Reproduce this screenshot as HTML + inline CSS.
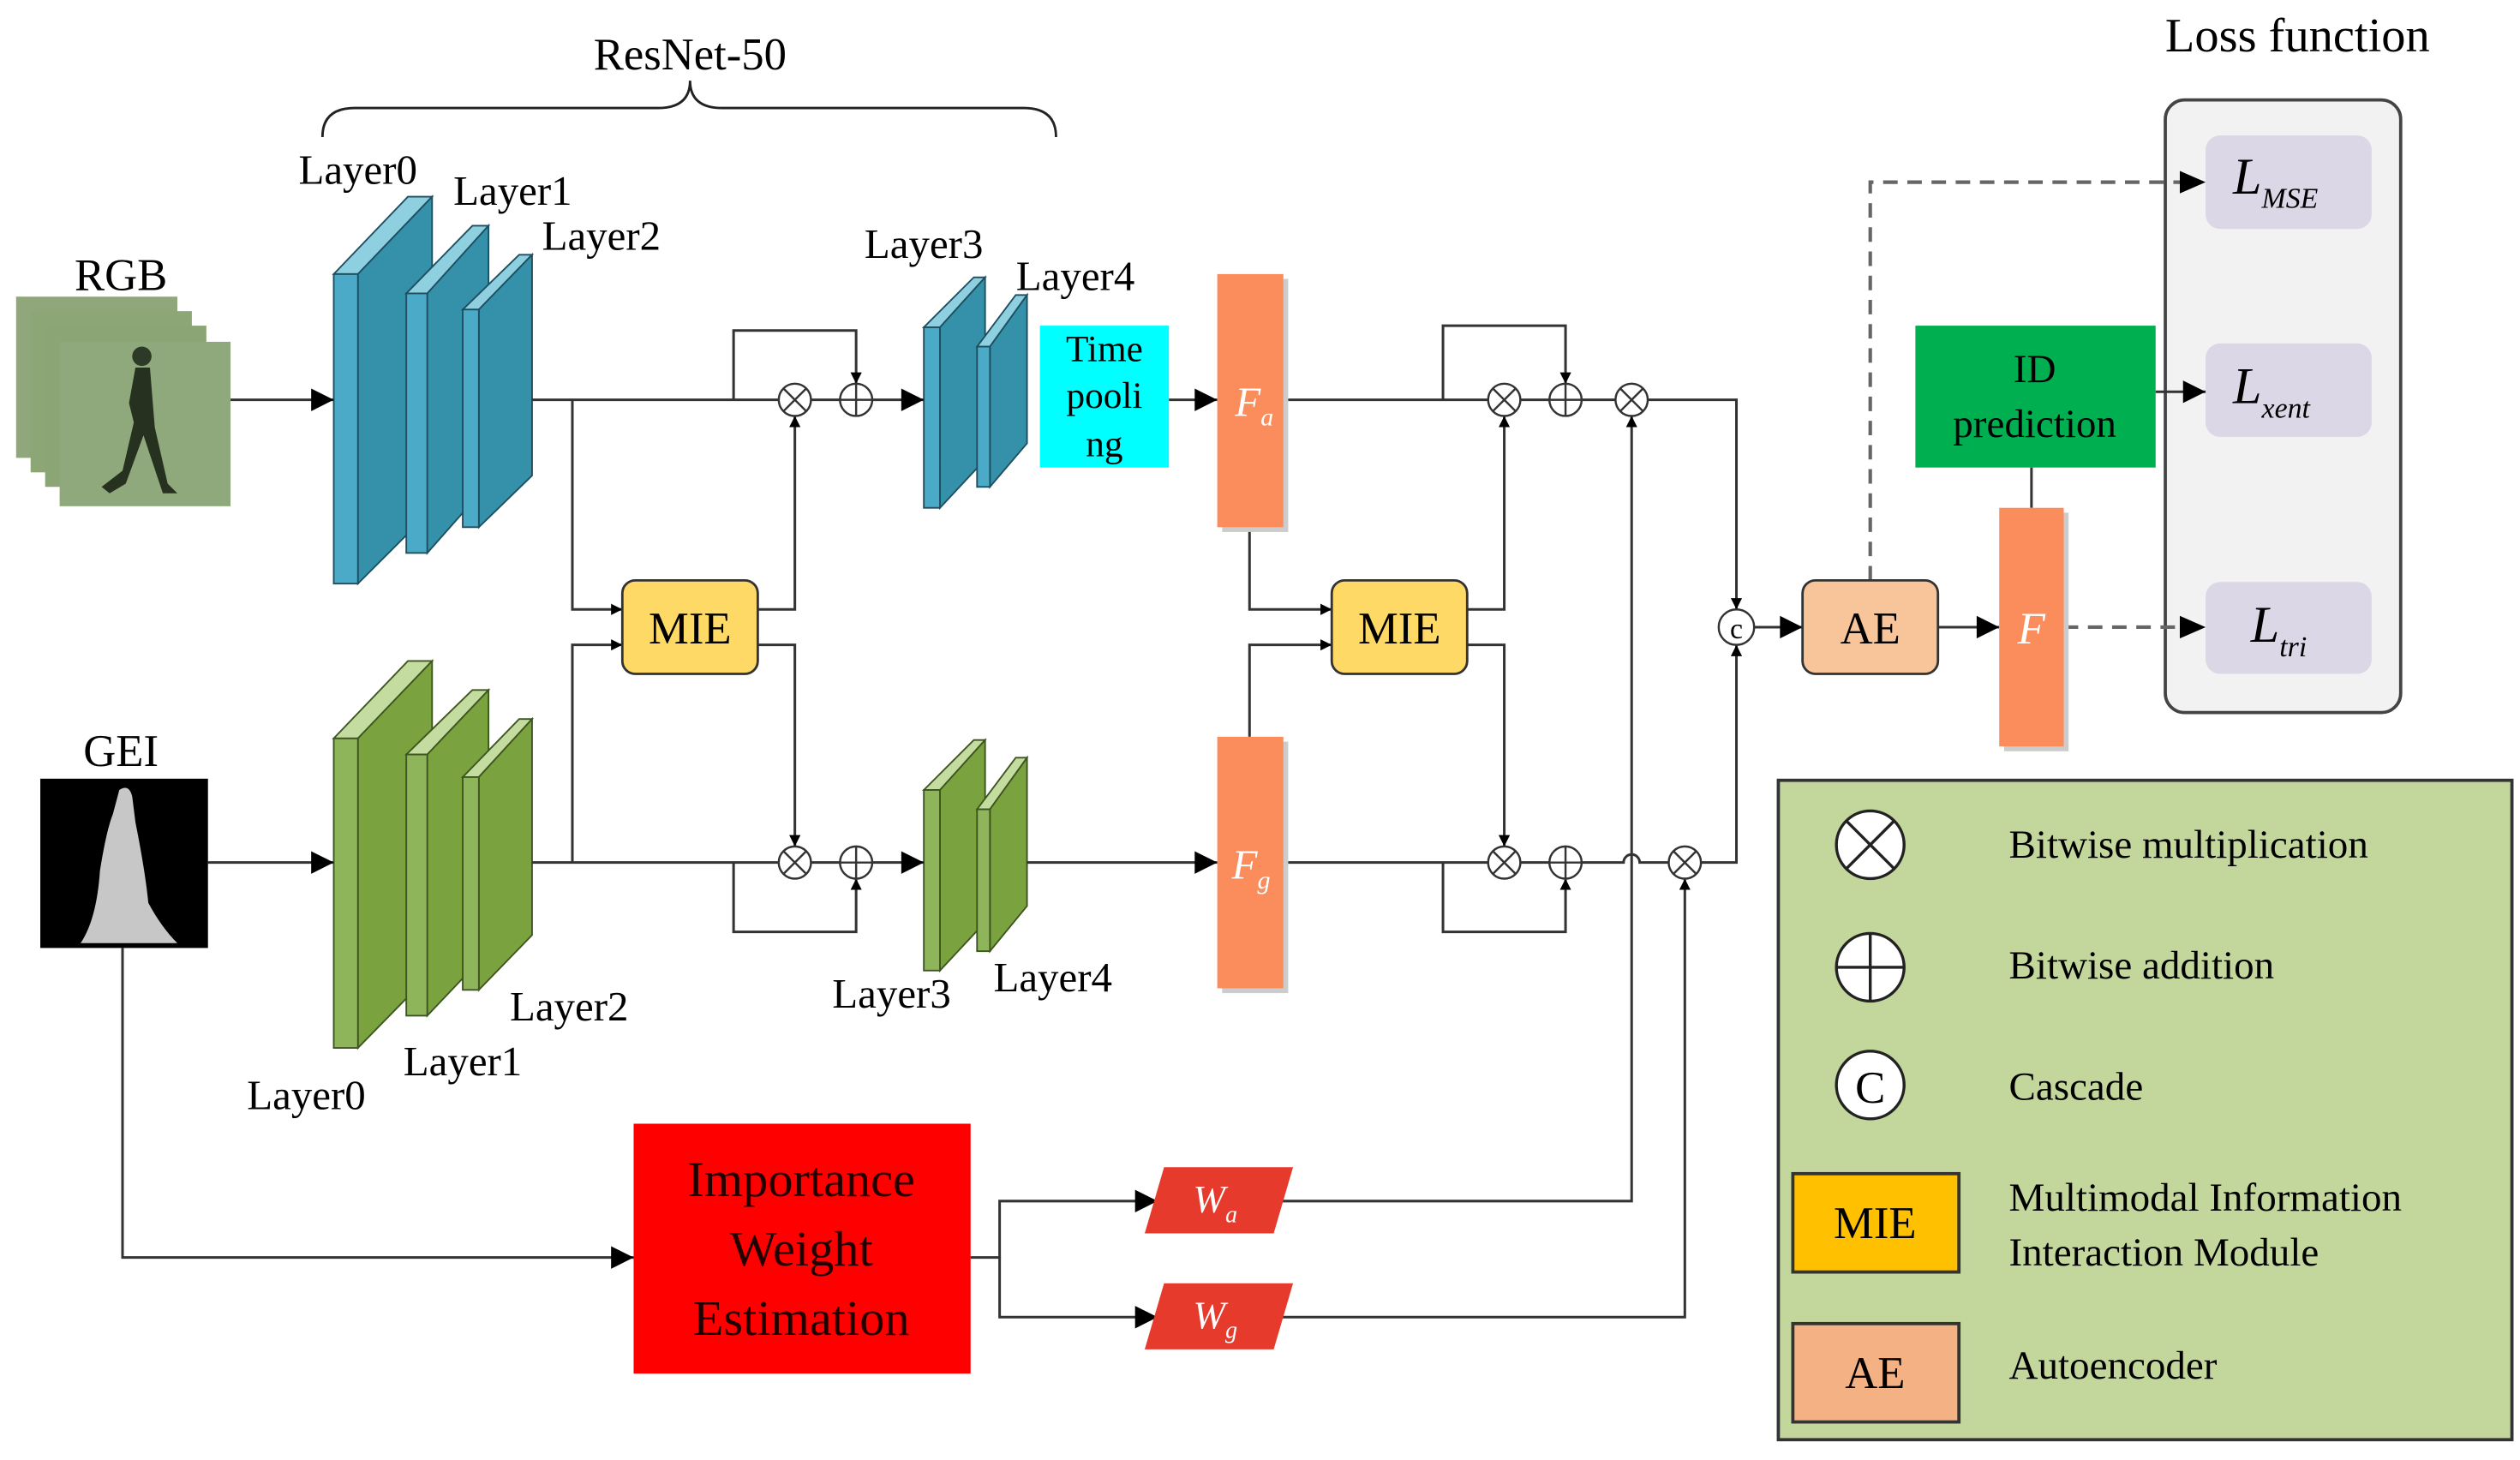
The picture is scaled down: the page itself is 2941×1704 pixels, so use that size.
<!DOCTYPE html>
<html><head><meta charset="utf-8"><style>
html,body{margin:0;padding:0;background:#fff;}
svg{display:block;}
text{font-family:"Liberation Serif",serif;fill:#000;}
</style></head><body>
<svg width="2941" height="1704" viewBox="0 0 1563 905.6" preserveAspectRatio="none" xmlns="http://www.w3.org/2000/svg">
<defs>
<marker id="a" viewBox="0 0 10 10" refX="10" refY="5" markerWidth="7" markerHeight="7" orient="auto" markerUnits="userSpaceOnUse"><path d="M0,0 L10,5 L0,10 z" fill="#000"/></marker>
<marker id="b" viewBox="0 0 10 10" refX="10" refY="5" markerWidth="16" markerHeight="14" orient="auto" markerUnits="userSpaceOnUse"><path d="M0,0 L10,5 L0,10 z" fill="#000"/></marker>
</defs>

<!-- titles -->
<text x="428" y="43" font-size="28" text-anchor="middle">ResNet-50</text>
<path d="M200,85 Q200,67 220,67 L408,67 Q428,67 428,50 Q428,67 448,67 L635,67 Q655,67 655,85" fill="none" stroke="#222" stroke-width="1.5"/>
<text x="1425" y="32" font-size="30" text-anchor="middle">Loss function</text>

<!-- loss panel (behind connectors) -->
<rect x="1343" y="62" width="146" height="380" rx="12" fill="#f2f2f2" stroke="#444" stroke-width="2"/>
<rect x="1368" y="84" width="103" height="58" rx="9" fill="#dcd7e6"/>
<rect x="1368" y="213" width="103" height="58" rx="9" fill="#dcd7e6"/>
<rect x="1368" y="361" width="103" height="57" rx="9" fill="#dcd7e6"/>
<g font-style="italic">
<text x="1385" y="120" font-size="32">L<tspan font-size="18" dy="9">MSE</tspan></text>
<text x="1385" y="250" font-size="32">L<tspan font-size="18" dy="9">xent</tspan></text>
<text x="1396" y="398" font-size="32">L<tspan font-size="18" dy="9">tri</tspan></text>
</g>

<!-- RGB images -->
<text x="75" y="180" font-size="28" text-anchor="middle">RGB</text>
<rect x="10" y="184" width="100" height="100" fill="#8fa77a"/>
<rect x="19" y="193" width="100" height="100" fill="#8ca676"/>
<rect x="28" y="202" width="100" height="100" fill="#8ba575"/>
<rect x="37" y="212" width="106" height="102" fill="#90a97c"/>
<circle cx="88" cy="221" r="6" fill="#2e3a28"/>
<path d="M84,228 L93,228 L96,265 L104,300 L110,306 L101,306 L89,270 L78,300 L68,306 L63,302 L76,292 L83,262 L80,250 L84,228z" fill="#26321f"/>
<text x="75" y="475" font-size="28" text-anchor="middle">GEI</text>
<rect x="25" y="483" width="104" height="105" fill="#000"/>
<path d="M74,490 Q80,486 82,494 L84,510 Q90,540 92,560 Q100,575 110,585 L50,585 Q60,570 62,540 Q66,515 70,505z" fill="#ddd" opacity="0.9"/>

<!-- blue layers top -->
<g stroke="#1d4f60" stroke-width="1">
<polygon points="207,170 253,122 268,122 222,170" fill="#8ecfe0"/>
<polygon points="222,170 268,122 268,316 222,362" fill="#3590aa"/>
<rect x="207" y="170" width="15" height="192" fill="#4aaac8"/>
<polygon points="252,182 293,140 303,140 265,182" fill="#8ecfe0"/>
<polygon points="265,182 303,140 303,300 265,343" fill="#3590aa"/>
<rect x="252" y="182" width="13" height="161" fill="#4aaac8"/>
<polygon points="287,192 322,158 330,158 297,192" fill="#8ecfe0"/>
<polygon points="297,192 330,158 330,295 297,327" fill="#3590aa"/>
<rect x="287" y="192" width="10" height="135" fill="#4aaac8"/>
<polygon points="573,203 604,172 611,172 583,203" fill="#8ecfe0"/>
<polygon points="583,203 611,172 611,285 583,315" fill="#3590aa"/>
<rect x="573" y="203" width="10" height="112" fill="#4aaac8"/>
<polygon points="606,215 630,183 637,183 614,215" fill="#8ecfe0"/>
<polygon points="614,215 637,183 637,275 614,302" fill="#3590aa"/>
<rect x="606" y="215" width="8" height="87" fill="#4aaac8"/>
</g>
<!-- green layers bottom -->
<g stroke="#3d5520" stroke-width="1">
<polygon points="207,458 253,410 268,410 222,458" fill="#c5dca0"/>
<polygon points="222,458 268,410 268,603 222,650" fill="#7aa33f"/>
<rect x="207" y="458" width="15" height="192" fill="#8fb55a"/>
<polygon points="252,468 293,428 303,428 265,468" fill="#c5dca0"/>
<polygon points="265,468 303,428 303,590 265,630" fill="#7aa33f"/>
<rect x="252" y="468" width="13" height="162" fill="#8fb55a"/>
<polygon points="287,482 322,446 330,446 297,482" fill="#c5dca0"/>
<polygon points="297,482 330,446 330,580 297,614" fill="#7aa33f"/>
<rect x="287" y="482" width="10" height="132" fill="#8fb55a"/>
<polygon points="573,490 604,459 611,459 583,490" fill="#c5dca0"/>
<polygon points="583,490 611,459 611,572 583,602" fill="#7aa33f"/>
<rect x="573" y="490" width="10" height="112" fill="#8fb55a"/>
<polygon points="606,502 630,470 637,470 614,502" fill="#c5dca0"/>
<polygon points="614,502 637,470 637,562 614,590" fill="#7aa33f"/>
<rect x="606" y="502" width="8" height="88" fill="#8fb55a"/>
</g>

<!-- layer labels -->
<g font-size="26">
<text x="222" y="114" text-anchor="middle">Layer0</text>
<text x="318" y="127" text-anchor="middle">Layer1</text>
<text x="373" y="155" text-anchor="middle">Layer2</text>
<text x="573" y="160" text-anchor="middle">Layer3</text>
<text x="667" y="180" text-anchor="middle">Layer4</text>
<text x="190" y="688" text-anchor="middle">Layer0</text>
<text x="287" y="667" text-anchor="middle">Layer1</text>
<text x="353" y="633" text-anchor="middle">Layer2</text>
<text x="553" y="625" text-anchor="middle">Layer3</text>
<text x="653" y="615" text-anchor="middle">Layer4</text>
</g>

<!-- connectors -->
<g fill="none" stroke="#333" stroke-width="1.6">
<path d="M143,248 H207" marker-end="url(#b)"/>
<path d="M129,535 H207" marker-end="url(#b)"/>
<path d="M330,248 H483"/>
<path d="M330,535 H483"/>
<path d="M455,248 V205 H531 V238" marker-end="url(#a)"/>
<path d="M455,535 V578 H531 V545" marker-end="url(#a)"/>
<path d="M503,248 H521"/><path d="M503,535 H521"/>
<path d="M541,248 H573" marker-end="url(#b)"/>
<path d="M541,535 H573" marker-end="url(#b)"/>
<path d="M355,248 V378 H386" marker-end="url(#a)"/>
<path d="M355,535 V400 H386" marker-end="url(#a)"/>
<path d="M470,378 H493 V258" marker-end="url(#a)"/>
<path d="M470,400 H493 V525" marker-end="url(#a)"/>
<path d="M725,248 H755" marker-end="url(#b)"/>
<path d="M637,535 H755" marker-end="url(#b)"/>
<path d="M796,248 H923"/>
<path d="M796,535 H923"/>
<path d="M895,248 V202 H971 V238" marker-end="url(#a)"/>
<path d="M895,535 V578 H971 V545" marker-end="url(#a)"/>
<path d="M943,248 H961"/><path d="M981,248 H1002"/><path d="M943,535 H961"/>
<path d="M981,535 H1007 A5,5 0 0 1 1017,535 H1035"/>
<path d="M1022,248 H1077 V378" marker-end="url(#a)"/>
<path d="M1055,535 H1077 V400" marker-end="url(#a)"/>
<path d="M775,327 V378 H826" marker-end="url(#a)"/>
<path d="M775,457 V400 H826" marker-end="url(#a)"/>
<path d="M910,378 H933 V258" marker-end="url(#a)"/>
<path d="M910,400 H933 V525" marker-end="url(#a)"/>
<path d="M1088,389 H1118" marker-end="url(#b)"/>
<path d="M1202,389 H1240" marker-end="url(#b)"/>
<path d="M1260,315 V290"/>
<path d="M1337,243 H1368" marker-end="url(#b)"/>
<path d="M76,588 V780 H393" marker-end="url(#b)"/>
<path d="M602,780 H620 V745 H718" marker-end="url(#b)"/>
<path d="M620,780 V817 H718" marker-end="url(#b)"/>
<path d="M795,745 H1012 V258" marker-end="url(#a)"/>
<path d="M795,817 H1045 V545" marker-end="url(#a)"/>
</g>
<g fill="none" stroke="#666" stroke-width="2.2" stroke-dasharray="9,6">
<path d="M1160,360 V113 H1356"/>
<path d="M1280,389 H1356"/>
</g>
<path d="M1352,106 L1368,113 L1352,120z M1352,382 L1368,389 L1352,396z" fill="#000"/>

<!-- operators -->
<g fill="#fff" stroke="#333" stroke-width="1.3">
<circle cx="493" cy="248" r="10"/><circle cx="531" cy="248" r="10"/>
<circle cx="493" cy="535" r="10"/><circle cx="531" cy="535" r="10"/>
<circle cx="933" cy="248" r="10"/><circle cx="971" cy="248" r="10"/><circle cx="1012" cy="248" r="10"/>
<circle cx="933" cy="535" r="10"/><circle cx="971" cy="535" r="10"/><circle cx="1045" cy="535" r="10"/>
<circle cx="1077" cy="389" r="11"/>
</g>
<g stroke="#333" stroke-width="1.3">
<path d="M486,241 L500,255 M500,241 L486,255 M486,528 L500,542 M500,528 L486,542 M926,241 L940,255 M940,241 L926,255 M1005,241 L1019,255 M1019,241 L1005,255 M926,528 L940,542 M940,528 L926,542 M1038,528 L1052,542 M1052,528 L1038,542"/>
<path d="M521,248 H541 M531,238 V258 M521,535 H541 M531,525 V545 M961,248 H981 M971,238 V258 M961,535 H981 M971,525 V545"/>
</g>
<text x="1077" y="396" font-size="18" text-anchor="middle" font-family="Liberation Sans">c</text>

<!-- boxes -->
<rect x="645" y="202" width="80" height="88" fill="#00ffff"/>
<text x="685" y="224" font-size="23" text-anchor="middle">Time</text>
<text x="685" y="253" font-size="23" text-anchor="middle">pooli</text>
<text x="685" y="283" font-size="23" text-anchor="middle">ng</text>
<rect x="758" y="173" width="41" height="157" fill="#ccc"/>
<rect x="755" y="170" width="41" height="157" fill="#fb8c5b"/>
<text x="766" y="258" font-size="26" font-style="italic" style="fill:#fff">F<tspan font-size="16" dy="6">a</tspan></text>
<rect x="758" y="460" width="41" height="156" fill="#ccc"/>
<rect x="755" y="457" width="41" height="156" fill="#fb8c5b"/>
<text x="764" y="545" font-size="26" font-style="italic" style="fill:#fff">F<tspan font-size="16" dy="6">g</tspan></text>
<rect x="1243" y="318" width="40" height="148" fill="#ccc"/>
<rect x="1240" y="315" width="40" height="148" fill="#fb8c5b"/>
<text x="1260" y="399" font-size="28" font-style="italic" text-anchor="middle" style="fill:#fff">F</text>

<rect x="386" y="360" width="84" height="58" rx="8" fill="#ffd966" stroke="#333" stroke-width="1.5"/>
<text x="428" y="399" font-size="28" text-anchor="middle">MIE</text>
<rect x="826" y="360" width="84" height="58" rx="8" fill="#ffd966" stroke="#333" stroke-width="1.5"/>
<text x="868" y="399" font-size="28" text-anchor="middle">MIE</text>
<rect x="1118" y="360" width="84" height="58" rx="8" fill="#f8c499" stroke="#333" stroke-width="1.5"/>
<text x="1160" y="399" font-size="28" text-anchor="middle">AE</text>

<rect x="1188" y="202" width="149" height="88" fill="#00b050"/>
<text x="1262" y="237" font-size="25" text-anchor="middle">ID</text>
<text x="1262" y="271" font-size="25" text-anchor="middle">prediction</text>

<rect x="393" y="697" width="209" height="155" fill="#ff0000"/>
<text x="497" y="742" font-size="31" text-anchor="middle" style="fill:#200">Importance</text>
<text x="497" y="785" font-size="31" text-anchor="middle" style="fill:#200">Weight</text>
<text x="497" y="828" font-size="31" text-anchor="middle" style="fill:#200">Estimation</text>
<polygon points="722,724 802,724 790,765 710,765" fill="#e53a2c"/>
<polygon points="722,796 802,796 790,837 710,837" fill="#e53a2c"/>
<text x="740" y="752" font-size="24" font-style="italic" style="fill:#fff">W<tspan font-size="15" dy="6">a</tspan></text>
<text x="740" y="824" font-size="24" font-style="italic" style="fill:#fff">W<tspan font-size="15" dy="6">g</tspan></text>

<!-- legend -->
<rect x="1103" y="484" width="455" height="409" fill="#c3d69b" stroke="#333" stroke-width="2"/>
<g fill="#fff" stroke="#222" stroke-width="1.8">
<circle cx="1160" cy="524" r="21"/><circle cx="1160" cy="600" r="21"/><circle cx="1160" cy="673" r="21"/>
</g>
<path d="M1145,509 L1175,539 M1175,509 L1145,539 M1139,600 H1181 M1160,579 V621" stroke="#222" stroke-width="1.8"/>
<text x="1160" y="684" font-size="28" text-anchor="middle" font-family="Liberation Sans">C</text>
<g font-size="25">
<text x="1246" y="532">Bitwise multiplication</text>
<text x="1246" y="607">Bitwise addition</text>
<text x="1246" y="682">Cascade</text>
<text x="1246" y="751">Multimodal  Information</text>
<text x="1246" y="785">Interaction Module</text>
<text x="1246" y="855">Autoencoder</text>
</g>
<rect x="1112" y="728" width="103" height="61" fill="#ffc000" stroke="#333" stroke-width="2"/>
<text x="1163" y="768" font-size="28" text-anchor="middle">MIE</text>
<rect x="1112" y="821" width="103" height="61" fill="#f4b183" stroke="#333" stroke-width="2"/>
<text x="1163" y="861" font-size="28" text-anchor="middle">AE</text>
</svg>
</body></html>
